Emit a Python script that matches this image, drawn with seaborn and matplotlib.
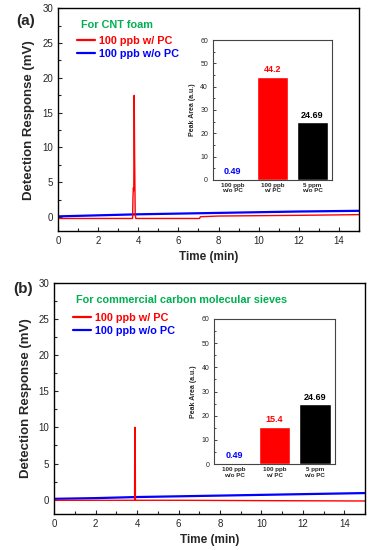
import numpy as np
import pandas as pd
import matplotlib
matplotlib.use("Agg")
import matplotlib.pyplot as plt
import seaborn as sns
from matplotlib.ticker import AutoMinorLocator, MultipleLocator
from matplotlib.lines import Line2D

# --- data ---
# panel (a): CNT foam
t_red_a = [0, 3.0, 3.72, 3.74, 3.76, 3.78, 3.80, 3.82, 3.85, 3.88, 5.0, 7.05, 7.1, 8.0, 10.0, 12.0, 15.0]
v_red_a = [-0.2, -0.2, -0.2, 3.0, 4.2, 3.8, 17.5, 9.0, 0.5, -0.2, -0.2, -0.2, 0.05, 0.15, 0.2, 0.25, 0.35]
t_blue_a = [0, 2, 4, 6, 8, 10, 12, 15]
v_blue_a = [0.1, 0.25, 0.4, 0.5, 0.6, 0.7, 0.8, 0.9]

# panel (b): commercial carbon molecular sieves
t_red_b = [0, 3.88, 3.89, 3.91, 3.92, 6, 10, 15]
v_red_b = [-0.1, -0.1, 10.0, 10.0, -0.1, -0.1, -0.15, -0.2]
t_blue_b = [0, 2, 4, 6, 8, 10, 12, 15]
v_blue_b = [0.1, 0.2, 0.35, 0.45, 0.55, 0.65, 0.75, 0.9]

bar_labels = ["100 ppb\nw/o PC", "100 ppb\nw/ PC", "5 ppm\nw/o PC"]
bars_a = [0.49, 44.2, 24.69]
bars_b = [0.49, 15.4, 24.69]
bar_text_a = ["0.49", "44.2", "24.69"]
bar_text_b = ["0.49", "15.4", "24.69"]

titles = ["For CNT foam", "For commercial carbon molecular sieves"]
panel_tags = ["(a)", "(b)"]
series_names = ["100 ppb w/ PC", "100 ppb w/o PC"]

RED = "#ff0000"
BLUE = "#0000ff"
GREEN = "#00b050"
bar_colors = [BLUE, RED, "#000000"]

sns.set_style("ticks")
plt.rcParams["font.family"] = ["Liberation Sans", "DejaVu Sans"]
plt.rcParams["font.weight"] = "bold"
plt.rcParams["axes.labelweight"] = "bold"

fig = plt.figure(figsize=(3.71, 5.5), dpi=100)
fig.patch.set_facecolor("white")

main_pos = [[0.156, 0.580, 0.812, 0.405], [0.146, 0.0655, 0.838, 0.4195]]
inset_pos = [[0.574, 0.673, 0.321, 0.254], [0.577, 0.156, 0.326, 0.264]]
tag_pos = [(0.045, 0.975), (0.035, 0.487)]
title_xy = [(0.076, 0.926), (0.071, 0.929)]
legend_xy = [(0.062, 0.875), (0.060, 0.871)]

traces = [(t_red_a, v_red_a, t_blue_a, v_blue_a), (t_red_b, v_red_b, t_blue_b, v_blue_b)]
bar_sets = [(bars_a, bar_text_a), (bars_b, bar_text_b)]

for i in range(2):
    ax = fig.add_axes(main_pos[i])
    tr, vr, tb, vb = traces[i]
    sns.lineplot(x=tb, y=vb, color=BLUE, lw=1.6, sort=False, estimator=None, ax=ax)
    sns.lineplot(x=tr, y=vr, color=RED, lw=1.0, sort=False, estimator=None, ax=ax)
    ax.set_xlim(0, 15)
    ax.set_ylim(-2, 30)
    ax.xaxis.set_major_locator(MultipleLocator(2))
    ax.xaxis.set_minor_locator(AutoMinorLocator(2))
    ax.yaxis.set_major_locator(MultipleLocator(5))
    ax.yaxis.set_minor_locator(AutoMinorLocator(2))
    ax.tick_params(which="both", direction="in", labelsize=7, width=0.8)
    ax.tick_params(which="major", length=3)
    ax.tick_params(which="minor", length=2)
    for lab in ax.get_xticklabels() + ax.get_yticklabels():
        lab.set_fontweight("normal")
    for s in ax.spines.values():
        s.set_linewidth(1.0)
        s.set_color("black")
    ax.set_xlabel("Time (min)", fontsize=8.5, fontweight="bold", labelpad=4)
    ax.set_ylabel("Detection Response (mV)", fontsize=9.5, fontweight="bold", labelpad=5)

    ax.text(title_xy[i][0], title_xy[i][1], titles[i], transform=ax.transAxes,
            color=GREEN, fontsize=7.8, fontweight="bold", ha="left", va="center")
    handles = [Line2D([], [], color=RED, lw=1.6), Line2D([], [], color=BLUE, lw=1.6)]
    leg = ax.legend(handles, series_names, loc="upper left", bbox_to_anchor=legend_xy[i],
                    frameon=False, fontsize=7.8, handlelength=1.7, handletextpad=0.35,
                    labelspacing=0.25, borderaxespad=0, borderpad=0)
    for txt, c in zip(leg.get_texts(), [RED, BLUE]):
        txt.set_color(c)
        txt.set_fontweight("bold")

    fig.text(tag_pos[i][0], tag_pos[i][1], panel_tags[i], fontsize=11, fontweight="bold",
             ha="left", va="top")

    # inset bar chart
    ins = fig.add_axes(inset_pos[i])
    vals, texts = bar_sets[i]
    df = pd.DataFrame({"cat": bar_labels, "val": vals})
    sns.barplot(data=df, x="cat", y="val", hue="cat", palette=bar_colors, width=0.78,
                legend=False, ax=ins, saturation=1)
    ins.set_xlim(-0.5, 2.5)
    ins.set_ylim(0, 60)
    ins.yaxis.set_major_locator(MultipleLocator(10))
    ins.yaxis.set_minor_locator(AutoMinorLocator(2))
    ins.tick_params(axis="y", which="both", direction="in", labelsize=5, width=0.6)
    ins.tick_params(axis="y", which="major", length=2)
    ins.tick_params(axis="y", which="minor", length=1.2)
    ins.tick_params(axis="x", length=0, labelsize=4.5, pad=2)
    for lab in ins.get_xticklabels():
        lab.set_fontweight("bold")
    for lab in ins.get_yticklabels():
        lab.set_fontweight("normal")
    ins.set_xlabel("")
    ins.set_ylabel("Peak Area (a.u.)", fontsize=5, fontweight="bold", labelpad=3)
    for s in ins.spines.values():
        s.set_linewidth(0.8)
        s.set_color("#444444")
    for k, (v, t) in enumerate(zip(vals, texts)):
        ins.text(k, v + 1.2, t, color=bar_colors[k], fontsize=6.5, fontweight="bold",
                 ha="center", va="bottom")

fig.savefig("out.png", dpi=100, facecolor="white")
